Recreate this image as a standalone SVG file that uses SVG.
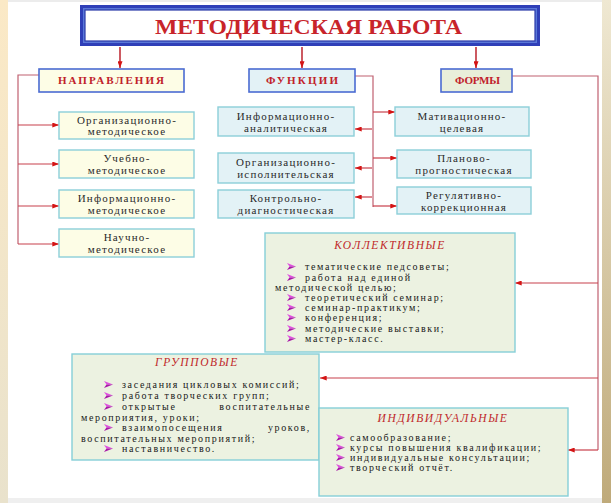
<svg xmlns="http://www.w3.org/2000/svg" width="611" height="503" viewBox="0 0 611 503">
<defs>
<linearGradient id="gl" x1="0" y1="0" x2="0" y2="1"><stop offset="0" stop-color="#fbe9c6"/><stop offset="1" stop-color="#e9e2cc"/></linearGradient>
<linearGradient id="gr" x1="0" y1="0" x2="0" y2="1"><stop offset="0" stop-color="#efe8d2"/><stop offset="1" stop-color="#bfaa7a"/></linearGradient>
<marker id="ah" viewBox="0 0 8 6" refX="8" refY="3" markerWidth="7" markerHeight="5" orient="auto" markerUnits="userSpaceOnUse"><path d="M0,0 L8,3 L0,6 z" fill="#d41414"/></marker>
<g id="bul"><path d="M0,-7 L9,-3.5 L2.5,-3.5 z" fill="#e050e0"/><path d="M0,0 L9,-3.5 L2.5,-3.5 z" fill="#a818a8"/></g>
<style>
.bg{fill:#fff}
.hdr{stroke:#4a6bd2;stroke-width:1.6}
.sub{stroke:#8ccfd9;stroke-width:1.4}
.big{stroke:#86cfd8;stroke-width:1.4;fill:#ecf2e1}
.yl{fill:#fdfde6}.bl{fill:#e3f2f6}.gr{fill:#e9efda}
.t{font-family:"Liberation Serif","Times New Roman",serif}
.ttl{font-size:20px;font-weight:bold;fill:#c8242a}
.h{font-size:11px;font-weight:bold;fill:#c0222a}
.bx{font-size:11px;fill:#2a2a2a;letter-spacing:1.2px;text-anchor:middle}
.it{font-size:11.5px;font-style:italic;fill:#c0282a;text-anchor:middle;letter-spacing:1.6px}
.li{font-size:10px;fill:#1a1a1a;letter-spacing:1.65px}
.c{fill:none;stroke:#c06070;stroke-width:1.2}
.ca{fill:none;stroke:#c8404c;stroke-width:1.2;marker-end:url(#ah)}
.cd{fill:none;stroke:#c0303a;stroke-width:1.6;marker-end:url(#ah)}
</style>
</defs>
<rect class="bg" x="0" y="0" width="611" height="503"/>
<rect x="0" y="0" width="611" height="2" fill="#ececec"/>
<rect x="0" y="498" width="611" height="5" fill="#efefef"/>
<rect x="0" y="0" width="8" height="503" fill="url(#gl)"/>
<rect x="602" y="0" width="9" height="503" fill="url(#gr)"/>

<g id="connectors">
<path class="cd" d="M120,47 V68"/>
<path class="cd" d="M302,47 V68"/>
<path class="cd" d="M476,47 V68"/>
<path class="c" d="M39,75 H18 V244"/>
<path class="ca" d="M18,125 H59"/>
<path class="ca" d="M18,164 H59"/>
<path class="ca" d="M18,206 H59"/>
<path class="ca" d="M18,244 H59"/>
<path class="c" d="M355,76 H373 V207"/>
<path class="ca" d="M373,112 H395"/>
<path class="ca" d="M373,158 H397"/>
<path class="ca" d="M373,206 H397"/>
<path class="ca" d="M372,129 H355"/>
<path class="ca" d="M372,168 H355"/>
<path class="ca" d="M372,197 H355"/>
<path class="c" d="M512,76 H598 V450"/>
<path class="ca" d="M598,283 H515"/>
<path class="ca" d="M598,378 H320"/>
<path class="ca" d="M598,450 H568"/>
</g>

<g id="title">
<rect x="80" y="5" width="460" height="41" fill="#2f3fb8"/>
<rect x="83" y="8" width="454" height="35" fill="#5a78d8"/>
<rect x="85" y="10" width="450" height="31" fill="#fff" stroke="#2a3aa8" stroke-width="1.2"/>
<text class="t ttl" x="155" y="34" textLength="307" lengthAdjust="spacingAndGlyphs">МЕТОДИЧЕСКАЯ РАБОТА</text>
</g>

<g id="napravleniya"><rect class="hdr yl" x="39" y="69" width="145" height="23"/><text class="t h" x="58" y="84" textLength="106">НАПРАВЛЕНИЯ</text></g>
<g id="funkcii"><rect class="hdr bl" x="249" y="69" width="106" height="23"/><text class="t h" x="266" y="84" textLength="72">ФУНКЦИИ</text></g>
<g id="formy"><rect class="hdr gr" x="441" y="69" width="71" height="23"/><text class="t h" x="455" y="84" textLength="45">ФОРМЫ</text></g>

<g id="n1"><rect class="sub yl" x="59" y="112" width="135" height="27"/><text class="t bx" x="127" y="124">Организационно-</text><text class="t bx" x="127" y="135">методическое</text></g>
<g id="n2"><rect class="sub yl" x="59" y="150" width="135" height="28"/><text class="t bx" x="127" y="162">Учебно-</text><text class="t bx" x="127" y="174">методическое</text></g>
<g id="n3"><rect class="sub yl" x="59" y="190" width="135" height="28"/><text class="t bx" x="127" y="202">Информационно-</text><text class="t bx" x="127" y="214">методическое</text></g>
<g id="n4"><rect class="sub yl" x="59" y="229" width="135" height="28"/><text class="t bx" x="127" y="241">Научно-</text><text class="t bx" x="127" y="253">методическое</text></g>

<g id="f1"><rect class="sub bl" x="218" y="107" width="136" height="29"/><text class="t bx" x="286" y="120">Информационно-</text><text class="t bx" x="286" y="132">аналитическая</text></g>
<g id="f2"><rect class="sub bl" x="218" y="153" width="136" height="30"/><text class="t bx" x="286" y="166">Организационно-</text><text class="t bx" x="286" y="178">исполнительская</text></g>
<g id="f3"><rect class="sub bl" x="218" y="190" width="136" height="28"/><text class="t bx" x="286" y="202">Контрольно-</text><text class="t bx" x="286" y="214">диагностическая</text></g>

<g id="m1"><rect class="sub bl" x="395" y="107" width="134" height="29"/><text class="t bx" x="462" y="120">Мативационно-</text><text class="t bx" x="462" y="132">целевая</text></g>
<g id="m2"><rect class="sub bl" x="397" y="150" width="134" height="28"/><text class="t bx" x="464" y="162">Планово-</text><text class="t bx" x="464" y="174">прогностическая</text></g>
<g id="m3"><rect class="sub bl" x="397" y="187" width="134" height="27"/><text class="t bx" x="464" y="199">Регулятивно-</text><text class="t bx" x="464" y="211">коррекционная</text></g>

<g id="kollektivnye">
<rect class="big" x="265" y="233" width="250" height="119"/>
<text class="t it" x="390" y="249">КОЛЛЕКТИВНЫЕ</text>
<use href="#bul" x="287" y="270"/><text class="t li" x="305" y="270">тематические педсоветы;</text>
<use href="#bul" x="287" y="281"/><text class="t li" x="305" y="281">работа над единой</text>
<text class="t li" x="275" y="291">методической целью;</text>
<use href="#bul" x="287" y="301"/><text class="t li" x="305" y="301">теоретический семинар;</text>
<use href="#bul" x="287" y="311"/><text class="t li" x="305" y="311">семинар-практикум;</text>
<use href="#bul" x="287" y="321"/><text class="t li" x="305" y="321">конференция;</text>
<use href="#bul" x="287" y="332"/><text class="t li" x="305" y="332">методические выставки;</text>
<use href="#bul" x="287" y="342"/><text class="t li" x="305" y="342">мастер-класс.</text>
</g>

<g id="gruppovye">
<rect class="big" x="72" y="354" width="247" height="106"/>
<text class="t it" x="197" y="366">ГРУППОВЫЕ</text>
<use href="#bul" x="104" y="388"/><text class="t li" x="122" y="388">заседания цикловых комиссий;</text>
<use href="#bul" x="104" y="399"/><text class="t li" x="122" y="399">работа творческих групп;</text>
<use href="#bul" x="104" y="410"/><text class="t li" x="122" y="410">открытые</text><text class="t li" x="311" y="410" text-anchor="end">воспитательные</text>
<text class="t li" x="81" y="421">мероприятия, уроки;</text>
<use href="#bul" x="104" y="431"/><text class="t li" x="122" y="431">взаимопосещения</text><text class="t li" x="311" y="431" text-anchor="end">уроков,</text>
<text class="t li" x="81" y="442">воспитательных мероприятий;</text>
<use href="#bul" x="104" y="452"/><text class="t li" x="122" y="452">наставничество.</text>
</g>

<g id="individualnye">
<rect class="big" x="319" y="408" width="249" height="88"/>
<text class="t it" x="443" y="422">ИНДИВИДУАЛЬНЫЕ</text>
<use href="#bul" x="336" y="441"/><text class="t li" x="350" y="441">самообразование;</text>
<use href="#bul" x="336" y="451"/><text class="t li" x="350" y="451">курсы повышения квалификации;</text>
<use href="#bul" x="336" y="461"/><text class="t li" x="350" y="461">индивидуальные консультации;</text>
<use href="#bul" x="336" y="471"/><text class="t li" x="350" y="471">творческий отчёт.</text>
</g>
</svg>
